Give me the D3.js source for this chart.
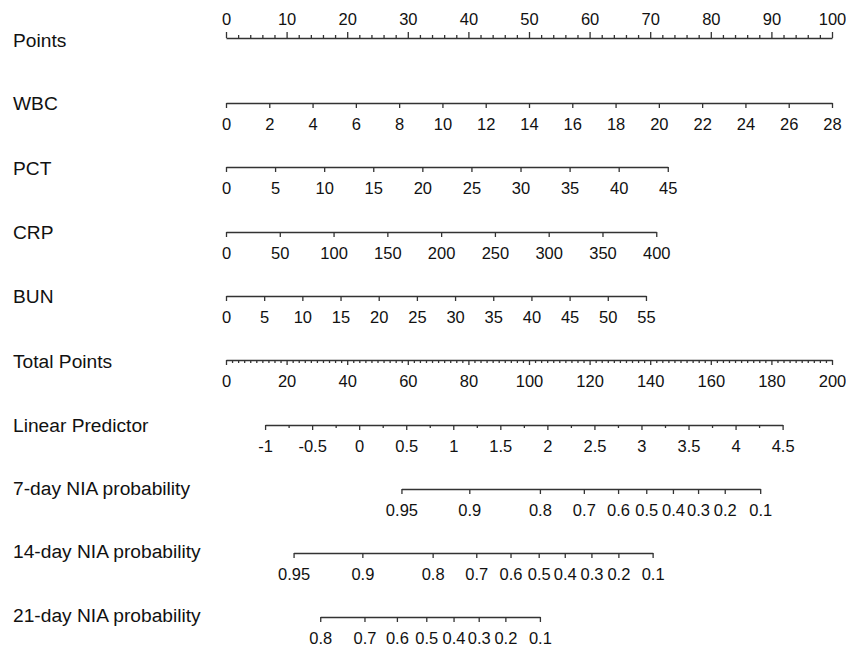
<!DOCTYPE html>
<html>
<head>
<meta charset="utf-8">
<script src="https://cdn.jsdelivr.net/npm/d3@7"></script>
<style>
  html, body { margin: 0; padding: 0; background: #fff; }
  svg { display: block; }
</style>
</head>
<body>
<svg id="chart" width="846" height="649"></svg>
<script>
// ---- Nomogram data ----
const rowNames = ["Points", "WBC", "PCT", "CRP", "BUN", "Total Points",
  "Linear Predictor", "7-day NIA probability", "14-day NIA probability", "21-day NIA probability"];

// Predictor ranges and the points awarded at the top of each range
const predictors = ["WBC", "PCT", "CRP", "BUN"];
const predictorMax = [28, 45, 400, 55];
const predictorMaxPoints = [100, 72.9, 71.0, 69.3];
const predictorStep = [2, 5, 50, 5];

// Linear predictor range and its total-points equivalents
const lpTicks = [-1, -0.5, 0, 0.5, 1, 1.5, 2, 2.5, 3, 3.5, 4, 4.5];
const lpRangeTotal = [12.9, 183.7];

// Survival-probability tick labels and their total-points positions
const prob7Labels = ["0.95", "0.9", "0.8", "0.7", "0.6", "0.5", "0.4", "0.3", "0.2", "0.1"];
const prob7Total = [57.9, 80.3, 103.6, 118.1, 129.4, 138.7, 147.5, 155.8, 164.6, 176.3];
const prob14Labels = ["0.95", "0.9", "0.8", "0.7", "0.6", "0.5", "0.4", "0.3", "0.2", "0.1"];
const prob14Total = [22.3, 45.0, 68.2, 82.6, 93.9, 103.2, 111.8, 120.6, 129.5, 140.8];
const prob21Labels = ["0.8", "0.7", "0.6", "0.5", "0.4", "0.3", "0.2", "0.1"];
const prob21Total = [31.1, 45.7, 56.4, 66.1, 75.1, 83.4, 92.2, 103.6];

// ---- Layout ----
const svg = d3.select("#chart");
const X0 = 226, X1 = 832;
const rowY = [38, 103, 167, 232, 296, 360, 425, 489, 553, 617];
const nameY = [46.7, 110, 174.5, 239, 303, 367.5, 432, 494.5, 558.3, 621.7];
const lineColor = "#333";
const tickFont = "16.5px 'Liberation Sans', Arial, sans-serif";

svg.append("rect").attr("width", 846).attr("height", 649).attr("fill", "#fff");

// Row names
svg.append("g").selectAll("text").data(rowNames).join("text")
  .attr("x", 13).attr("y", (d, i) => nameY[i])
  .attr("font-family", "'Liberation Sans', Arial, sans-serif")
  .attr("font-size", 19.2).attr("fill", "#111")
  .text(d => d);

const pointsScale = d3.scaleLinear().domain([0, 100]).range([X0, X1]);
const totalScale = d3.scaleLinear().domain([0, 200]).range([X0, X1]);

function styleAxis(g) {
  g.attr("color", lineColor);
  g.selectAll("path, line").attr("stroke-width", 1.3);
  g.selectAll("text").style("font", tickFont).attr("fill", "#111");
}

function drawAxis(y, scale, major, minor, fmt, top) {
  const g = svg.append("g").attr("transform", `translate(0,${y})`);
  if (minor) {
    const mAxis = (top ? d3.axisTop(scale) : d3.axisBottom(scale))
      .tickValues(minor).tickFormat("").tickSize(3).tickSizeOuter(0);
    const mg = g.append("g").call(mAxis);
    mg.select(".domain").remove();
    styleAxis(mg);
  }
  const axis = (top ? d3.axisTop(scale) : d3.axisBottom(scale))
    .tickValues(major).tickSize(top ? 6 : 5).tickSizeOuter(0)
    .tickPadding(top ? 7.3 : 10);
  if (fmt) axis.tickFormat(fmt);
  const mg = g.append("g").call(axis);
  styleAxis(mg);
}

// Points
drawAxis(rowY[0], pointsScale, d3.range(0, 101, 10),
  d3.range(0, 101, 2).filter(v => v % 10 !== 0), d3.format("d"), true);

// Predictor rows
predictors.forEach((p, i) => {
  const s = d3.scaleLinear().domain([0, predictorMax[i]])
    .range([pointsScale(0), pointsScale(predictorMaxPoints[i])]);
  drawAxis(rowY[i + 1], s, d3.range(0, predictorMax[i] + 0.001, predictorStep[i]),
    null, d3.format("d"), false);
});

// Total points
drawAxis(rowY[5], totalScale, d3.range(0, 201, 20),
  d3.range(0, 201, 2).filter(v => v % 20 !== 0), d3.format("d"), false);

// Linear predictor
const lpScale = d3.scaleLinear().domain([lpTicks[0], lpTicks[lpTicks.length - 1]])
  .range(lpRangeTotal.map(totalScale));
const lpMinor = d3.range(lpTicks[0] + 0.25, lpTicks[lpTicks.length - 1], 0.5);
drawAxis(rowY[6], lpScale, lpTicks, lpMinor, d => String(d), false);

// Probability rows
[[prob7Total, prob7Labels], [prob14Total, prob14Labels], [prob21Total, prob21Labels]]
  .forEach(([tot, labels], k) => {
    const s = d3.scaleLinear().domain([tot[0], tot[tot.length - 1]])
      .range([totalScale(tot[0]), totalScale(tot[tot.length - 1])]);
    drawAxis(rowY[7 + k], s, tot, null, (d, i) => labels[i], false);
  });
</script>
</body>
</html>
